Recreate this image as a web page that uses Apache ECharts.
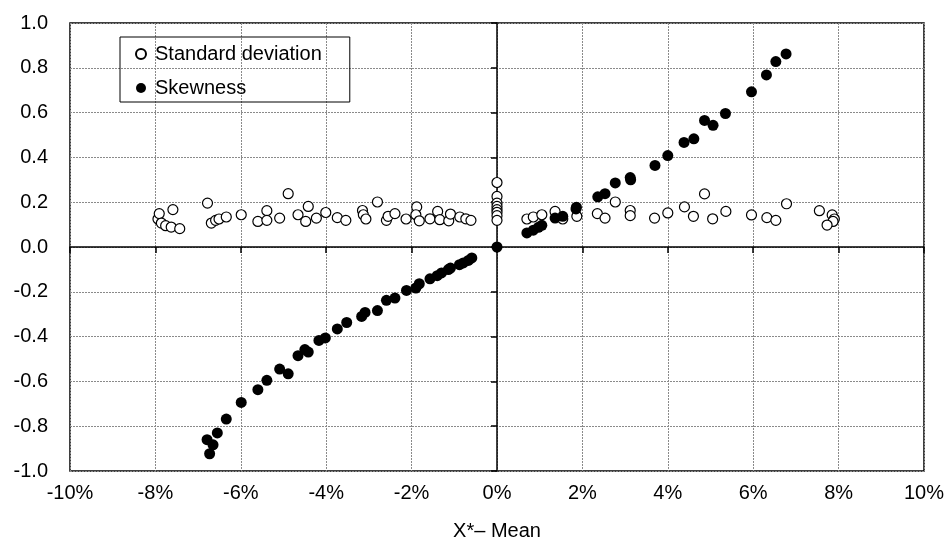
<!DOCTYPE html>
<html>
<head>
<meta charset="utf-8">
<script src="https://cdn.jsdelivr.net/npm/echarts@6/dist/echarts.min.js"></script>
<style>
  html, body { margin: 0; padding: 0; background: #fff; }
  #chart { width: 949px; height: 553px; }
</style>
</head>
<body>
<div id="chart"></div>
<script>
// X* minus mean, in percent
const stdDevX = [-7.94, -7.91, -7.86, -7.76, -7.59, -7.63, -7.43,
  -6.78, -6.69, -6.59, -6.51, -6.34, -5.99, -5.60, -5.39, -5.39, -5.09, -4.89, -4.66, -4.42, -4.48,
  -4.23, -4.01, -3.74, -3.54, -3.15, -3.13, -3.07, -2.80, -2.59, -2.55, -2.39, -2.13, -1.88, -1.90,
  -1.82, -1.57, -1.39, -1.34, -1.13, -1.09, -0.87, -0.73, -0.61,
  0, 0, 0, 0, 0, 0, 0, 0,
  0.70, 0.85, 1.05, 1.36, 1.54, 1.87, 2.35, 2.53, 2.77, 3.12, 3.12, 3.69, 4.00, 4.39, 4.60, 4.86,
  5.05, 5.36, 5.96, 6.32, 6.53, 6.78, 7.55, 7.85, 7.90, 7.87, 7.73];
const stdDevY = [0.125, 0.149, 0.107, 0.095, 0.167, 0.089, 0.082,
  0.196, 0.107, 0.119, 0.125, 0.134, 0.144, 0.114, 0.162, 0.119, 0.129, 0.238, 0.144, 0.181, 0.114,
  0.129, 0.154, 0.131, 0.119, 0.163, 0.144, 0.125, 0.201, 0.119, 0.137, 0.149, 0.125, 0.179, 0.144,
  0.117, 0.126, 0.159, 0.122, 0.117, 0.147, 0.134, 0.126, 0.119,
  0.288, 0.226, 0.196, 0.181, 0.167, 0.155, 0.140, 0.119,
  0.125, 0.134, 0.144, 0.159, 0.125, 0.137, 0.149, 0.129, 0.201, 0.163, 0.140, 0.129, 0.152, 0.179,
  0.137, 0.237, 0.126, 0.159, 0.143, 0.131, 0.119, 0.193, 0.162, 0.143, 0.125, 0.114, 0.098];

const skewX = [-6.73, -6.65, -6.79, -6.55, -6.34, -5.99, -5.60, -5.39, -5.09, -4.89, -4.66, -4.50,
  -4.42, -4.17, -4.02, -3.74, -3.52, -3.17, -3.09, -2.80, -2.59, -2.39, -2.12, -1.90, -1.82, -1.57,
  -1.40, -1.30, -1.14, -1.09, -0.88, -0.79, -0.67, -0.59,
  0,
  0.70, 0.85, 0.97, 1.05, 1.36, 1.54, 1.86, 1.85, 2.36, 2.53, 2.77, 3.12, 3.13, 3.70, 4.00, 4.38,
  4.61, 4.86, 5.06, 5.35, 5.96, 6.31, 6.53, 6.77];
const skewY = [-0.923, -0.883, -0.860, -0.830, -0.768, -0.694, -0.637, -0.595, -0.545, -0.566,
  -0.485, -0.458, -0.469, -0.417, -0.406, -0.366, -0.337, -0.310, -0.292, -0.284, -0.238, -0.228,
  -0.194, -0.183, -0.164, -0.142, -0.128, -0.116, -0.101, -0.094, -0.079, -0.071, -0.060, -0.049,
  0,
  0.063, 0.075, 0.088, 0.097, 0.129, 0.137, 0.178, 0.170, 0.224, 0.238, 0.286, 0.310, 0.300, 0.364,
  0.408, 0.467, 0.483, 0.565, 0.543, 0.596, 0.693, 0.768, 0.828, 0.862];

const seriesNames = ['Standard deviation', 'Skewness'];
const xTitle = 'X*\u2013 Mean';

const FONT = '"Liberation Sans", Arial, sans-serif';
const FS = 20;
const zip = (xs, ys) => xs.map((x, i) => [x, ys[i]]);

const chart = echarts.init(document.getElementById('chart'), null, { renderer: 'canvas' });

const gridLine = { show: true, lineStyle: { color: '#8a8a8a', width: 1, type: [2, 1] } };
const zeroLine = { show: true, onZero: true, onZeroAxisIndex: 1, lineStyle: { color: '#000', width: 1.5 } };

chart.setOption({
  animation: false,
  backgroundColor: '#fff',
  grid: { left: 70, right: 25, top: 23, bottom: 82, show: true, borderColor: '#000', borderWidth: 1.5 },
  xAxis: [
    {
      type: 'value', min: -10, max: 10, interval: 2, position: 'bottom',
      axisLine: { show: false }, axisTick: { show: false }, splitLine: gridLine,
      axisLabel: { formatter: v => v + '%', fontSize: FS, color: '#000', fontFamily: FONT, margin: 12 },
      name: xTitle, nameLocation: 'middle', nameGap: 50,
      nameTextStyle: { fontSize: FS, color: '#000', fontFamily: FONT }
    },
    {
      type: 'value', min: -10, max: 10, interval: 2, position: 'bottom',
      axisLine: zeroLine, axisTick: { show: true, length: 6, lineStyle: { color: '#000', width: 1.5 } },
      axisLabel: { show: false }, splitLine: { show: false }
    }
  ],
  yAxis: [
    {
      type: 'value', min: -1, max: 1, interval: 0.2, position: 'left',
      axisLine: { show: false }, axisTick: { show: false }, splitLine: gridLine,
      axisLabel: { formatter: v => v.toFixed(1), fontSize: FS, color: '#000', fontFamily: FONT, margin: 22 }
    },
    {
      type: 'value', min: -1, max: 1, interval: 0.2, position: 'left',
      axisLine: zeroLine, axisTick: { show: true, length: 6, lineStyle: { color: '#000', width: 1.5 } },
      axisLabel: { show: false }, splitLine: { show: false }
    }
  ],
  legend: {
    orient: 'vertical', left: 120, top: 37,
    data: seriesNames,
    icon: 'circle', itemWidth: 10, itemHeight: 10, itemGap: 12,
    padding: [6, 28, 3, 15],
    borderColor: '#000', borderWidth: 1,
    textStyle: { fontSize: FS, color: '#000', fontFamily: FONT, lineHeight: 22, padding: [0, 0, 0, 4] }
  },
  series: [
    {
      name: seriesNames[0], type: 'scatter', xAxisIndex: 0, yAxisIndex: 0,
      data: zip(stdDevX, stdDevY), symbolSize: 10,
      itemStyle: { color: '#fff', borderColor: '#000', borderWidth: 1.2, opacity: 1 }
    },
    {
      name: seriesNames[1], type: 'scatter', xAxisIndex: 0, yAxisIndex: 0,
      data: zip(skewX, skewY), symbolSize: 11,
      itemStyle: { color: '#000', opacity: 1 }
    }
  ]
});
</script>
</body>
</html>
